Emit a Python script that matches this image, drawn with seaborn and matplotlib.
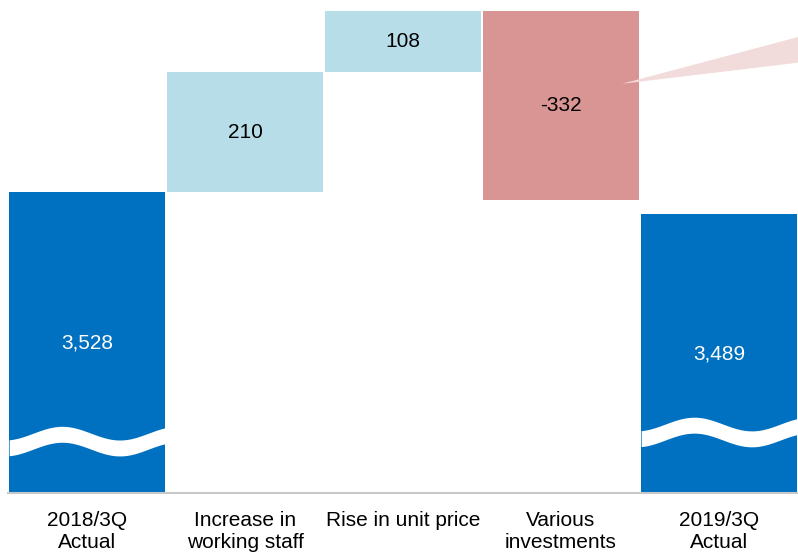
import numpy as np
import pandas as pd
import matplotlib
matplotlib.use('Agg')
import matplotlib.pyplot as plt
import seaborn as sns
from matplotlib.patches import Polygon

# Data
categories = ['2018/3Q\nActual', 'Increase in\nworking staff', 'Rise in unit price',
              'Various\ninvestments', '2019/3Q\nActual']
start_total = 3528
changes = [210, 108, -332]
end_total = 3489

colors = ['#0070c0', '#b7dde8', '#b7dde8', '#d99594', '#0070c0']
label_colors = ['white', 'black', 'black', 'black', 'white']

# broken axis: the visible part starts at 3000
axis_floor = 3000
axis_top = 3865

# waterfall bottoms / tops
bottoms = [axis_floor]
tops = [start_total]
level = start_total
for c in changes:
    new = level + c
    bottoms.append(min(level, new))
    tops.append(max(level, new))
    level = new
bottoms.append(axis_floor)
tops.append(end_total)
values = [start_total] + changes + [end_total]
labels = [f'{v:,}' for v in values]

sns.set_theme(style='white')
plt.rcParams['font.family'] = ['Liberation Sans', 'DejaVu Sans']

fig = plt.figure(figsize=(7.98, 5.53), dpi=100)
ax = fig.add_axes([8 / 798, 60 / 553, 790 / 798, 493 / 553])

df = pd.DataFrame({'cat': categories, 'top': tops})
bar_w = 0.985
sns.barplot(data=df, x='cat', y='top', hue='cat', palette=colors, legend=False,
            width=bar_w, linewidth=0, saturation=1, ax=ax)

# turn the bars into floating waterfall segments
for patch, b, t in zip(ax.patches, bottoms, tops):
    patch.set_y(b)
    patch.set_height(t - b)

ax.set_xlim(-0.5, 4.5)
ax.set_ylim(axis_floor, axis_top)

# value labels
for i, (b, t) in enumerate(zip(bottoms, tops)):
    ax.text(i, (b + t) / 2, labels[i], ha='center', va='center',
            color=label_colors[i], fontsize=15, zorder=5)

# wavy break marks on the total bars
wave_centers = {0: 3091, 4: 3107}
for i, yc0 in wave_centers.items():
    x = np.linspace(i - bar_w / 2, i + bar_w / 2, 300)
    t = (x - (i - bar_w / 2)) / bar_w
    yc = yc0 + 12 * np.sin(2 * np.pi * (t - 0.34) / 0.74 + np.pi / 2)
    ax.fill_between(x, yc - 14, yc + 14, color='white', lw=0, zorder=3)

# callout wedge from the investments bar
ax.add_patch(Polygon([(3.386, 3718), (4.5, 3800), (4.5, 3755)],
                     closed=True, facecolor='#f2dcdb', edgecolor='none', zorder=4))

sns.despine(ax=ax, left=True, top=True, right=True)
ax.spines['bottom'].set_color('#c8c8c8')
ax.spines['bottom'].set_linewidth(1.5)
ax.set_yticks([])
ax.tick_params(axis='x', length=0, pad=13, labelsize=15, colors='black')
ax.set_xlabel('')
ax.set_ylabel('')

fig.savefig('out.png', dpi=100)
